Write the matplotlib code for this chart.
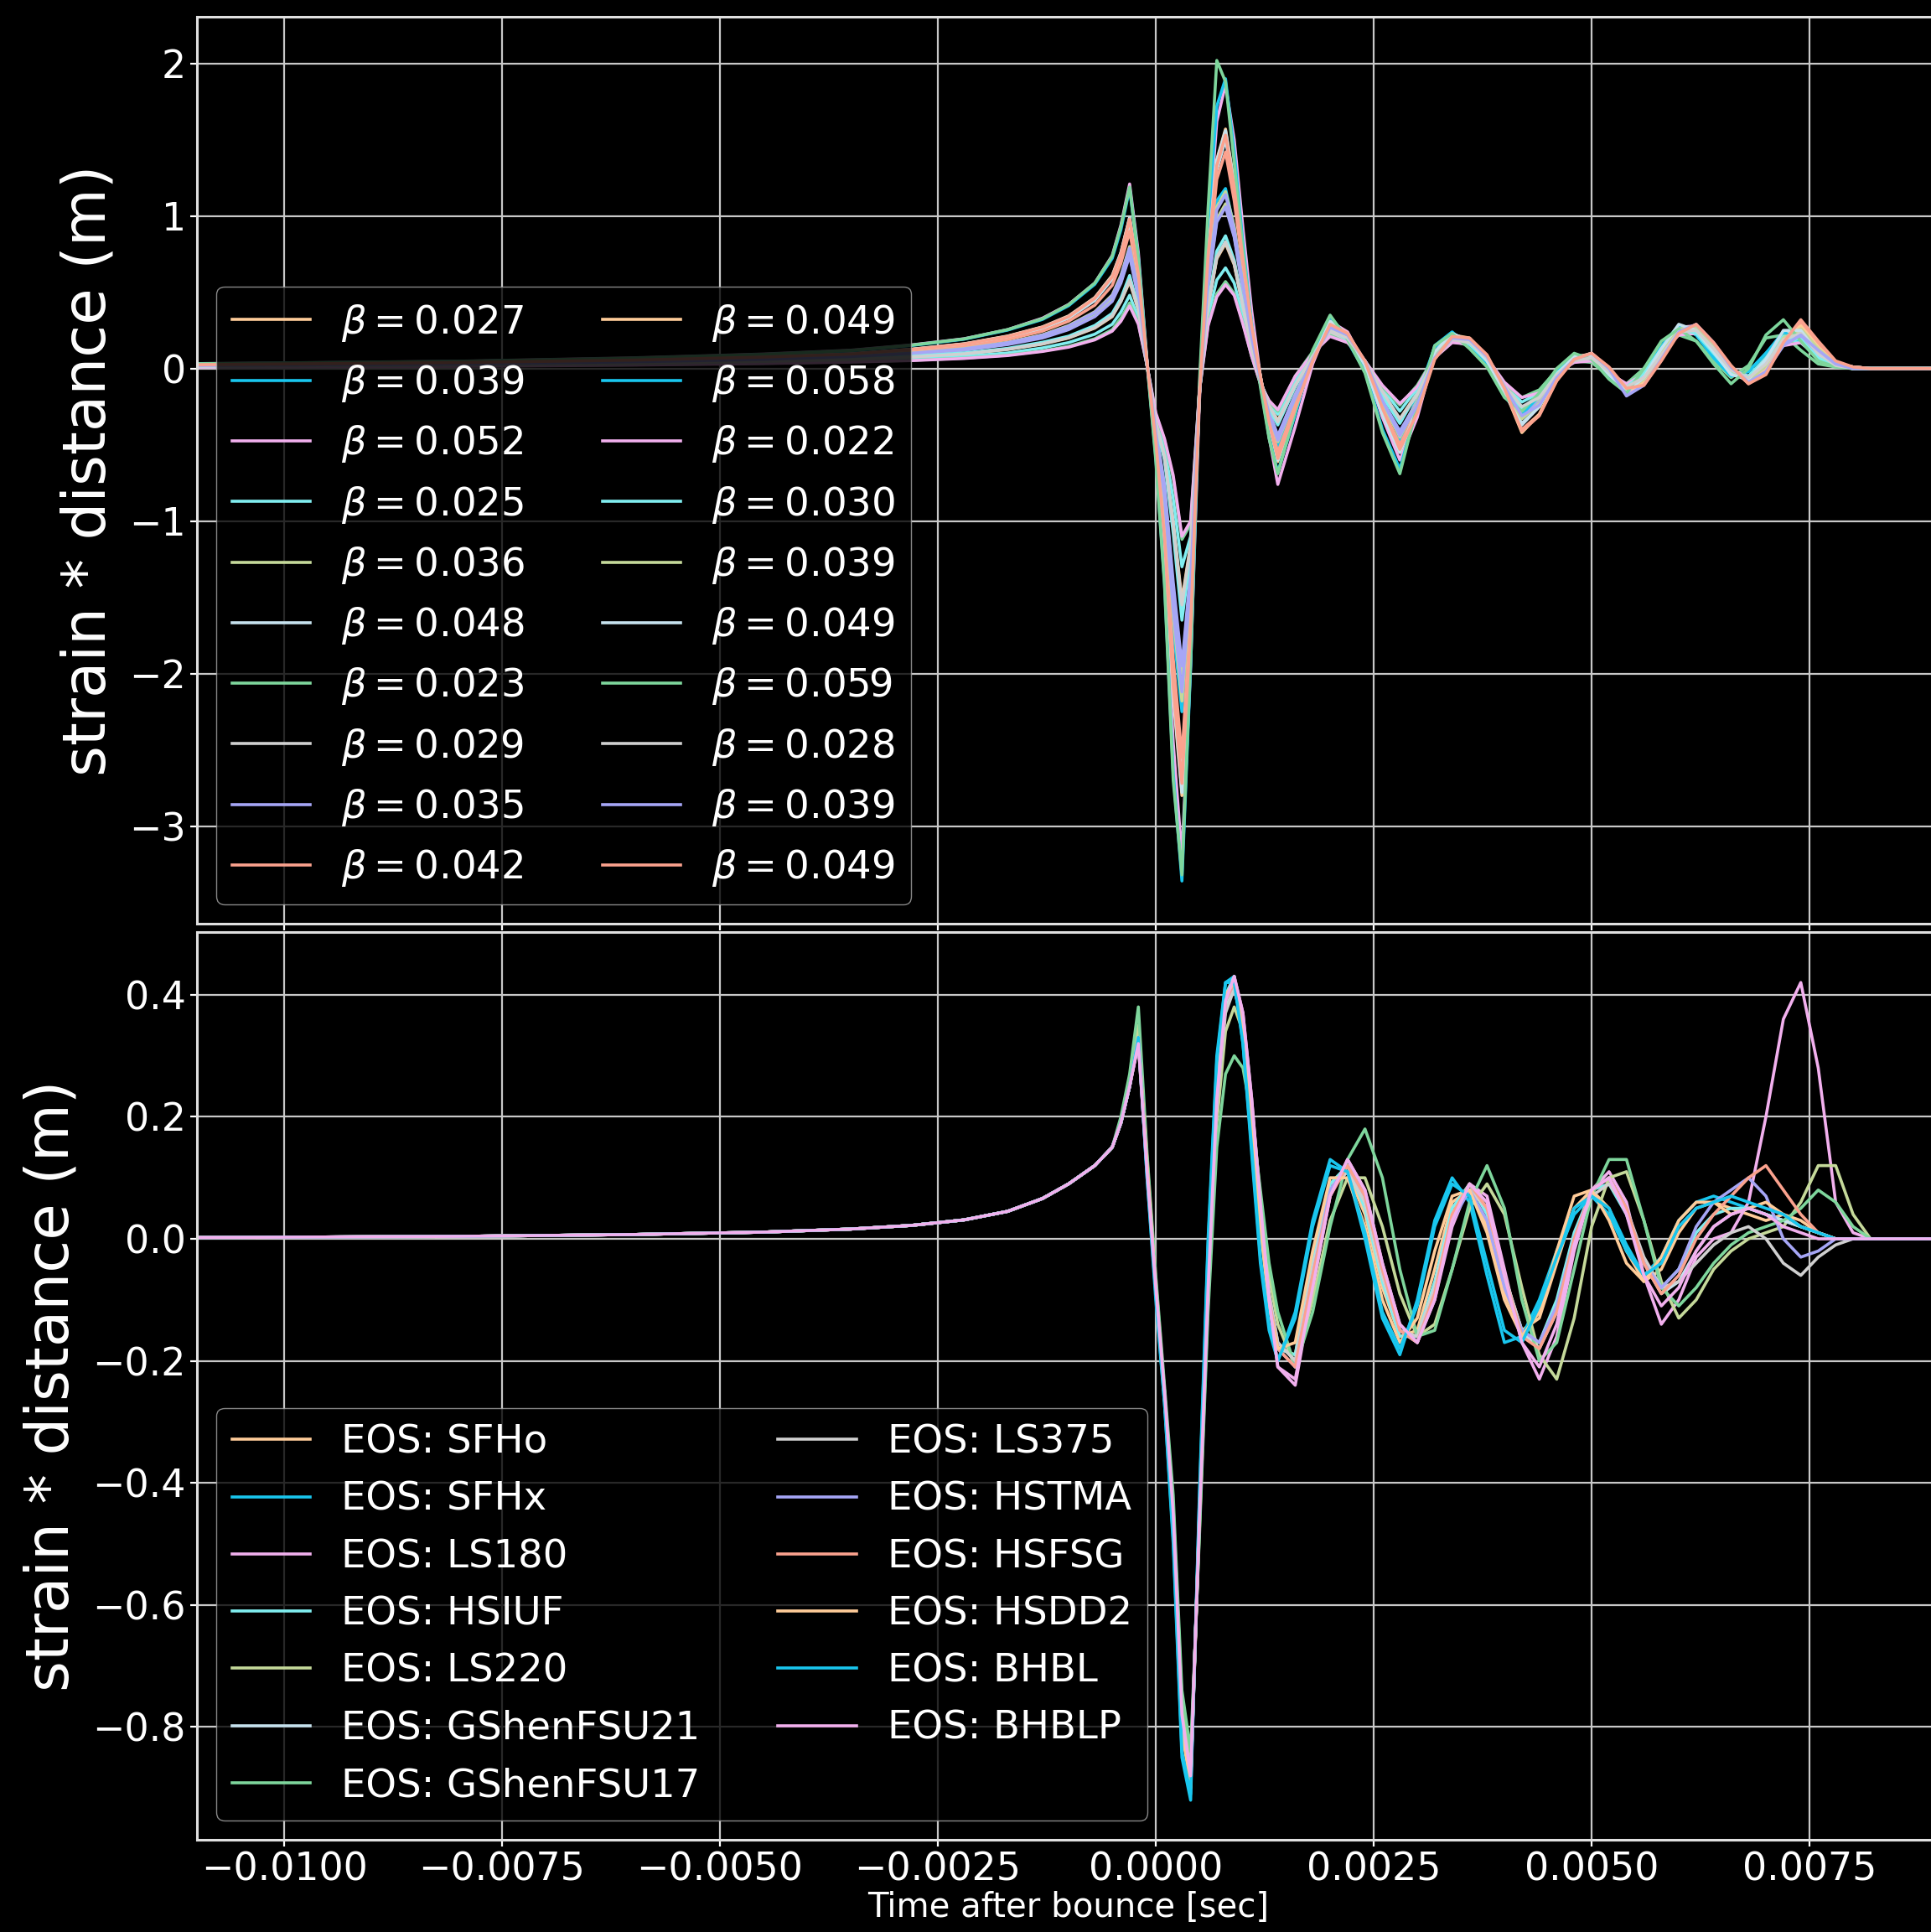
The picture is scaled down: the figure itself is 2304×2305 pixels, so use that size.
import matplotlib
matplotlib.use("Agg")
import matplotlib.pyplot as plt

# time grid shared by every waveform (s after bounce)
t = [-0.0110, -0.0080, -0.0060, -0.0045, -0.0035, -0.0028, -0.0022, -0.0017, -0.0013, -0.0010, -0.0007, -0.0005,
     -0.0004, -0.0003, -0.0002, -0.0001, 0.0000, 0.0001, 0.0002, 0.0003, 0.0004, 0.0005, 0.0006, 0.0007,
     0.0008, 0.0009, 0.0010, 0.0011, 0.0012, 0.0013, 0.0014,
     0.0016, 0.0018, 0.0020, 0.0022, 0.0024, 0.0026, 0.0028, 0.0030, 0.0032, 0.0034, 0.0036, 0.0038,
     0.0040, 0.0042, 0.0044, 0.0046, 0.0048, 0.0050, 0.0052, 0.0054, 0.0056, 0.0058, 0.0060, 0.0062,
     0.0064, 0.0066, 0.0068, 0.0070, 0.0072, 0.0074, 0.0076, 0.0078, 0.0080, 0.0082, 0.0090]

# ---- top panel: rotation series ----
beta_labels = ['0.027', '0.039', '0.052', '0.025', '0.036', '0.048', '0.023', '0.029', '0.035', '0.042',
               '0.049', '0.058', '0.022', '0.030', '0.039', '0.049', '0.059', '0.028', '0.039', '0.049']

rot_00 = [0.015, 0.022, 0.033, 0.046, 0.058, 0.075, 0.095, 0.125, 0.160, 0.200, 0.265, 0.340,
          0.44, 0.57, 0.38, 0.02, -0.35, -0.57, -1.00, -1.52, -1.15, -0.15, 0.40, 0.72, 0.82, 0.68, 0.40, 0.13, -0.08, -0.24, -0.34,
          -0.11, 0.08, 0.25, 0.19, 0.04, -0.16, -0.33, -0.16, 0.08, 0.20, 0.17, 0.06, -0.12, -0.27, -0.19, -0.03, 0.06,
          0.07, -0.03, -0.12, -0.04, 0.12, 0.26, 0.24, 0.10, -0.03, -0.06, 0.06, 0.21, 0.20, 0.08, 0.02, 0.00, 0.00, 0.00]
rot_01 = [0.020, 0.030, 0.045, 0.060, 0.078, 0.100, 0.128, 0.168, 0.215, 0.275, 0.365, 0.470,
          0.60, 0.78, 0.49, 0.03, -0.42, -0.88, -1.70, -2.25, -1.45, -0.15, 0.62, 1.10, 1.18, 0.92, 0.52, 0.17, -0.10, -0.35, -0.52,
          -0.22, 0.10, 0.30, 0.18, -0.02, -0.30, -0.48, -0.18, 0.14, 0.22, 0.14, 0.02, -0.18, -0.32, -0.18, -0.02, 0.08,
          0.06, -0.06, -0.15, -0.02, 0.15, 0.28, 0.22, 0.08, -0.04, -0.02, 0.10, 0.22, 0.18, 0.06, 0.02, 0.00, 0.00, 0.00]
rot_02 = [0.032, 0.048, 0.070, 0.095, 0.120, 0.155, 0.195, 0.255, 0.330, 0.420, 0.560, 0.740,
          0.94, 1.21, 0.76, 0.05, -0.56, -1.28, -2.45, -3.20, -1.95, -0.22, 0.85, 1.62, 1.86, 1.50, 0.92, 0.38, -0.05, -0.45, -0.76,
          -0.38, 0.03, 0.31, 0.24, 0.03, -0.32, -0.60, -0.32, 0.10, 0.23, 0.18, 0.07, -0.14, -0.30, -0.23, -0.06, 0.07,
          0.09, -0.02, -0.17, -0.10, 0.10, 0.27, 0.28, 0.14, -0.01, -0.09, 0.03, 0.22, 0.26, 0.12, 0.03, 0.01, 0.00, 0.00]
rot_03 = [0.012, 0.018, 0.028, 0.040, 0.050, 0.062, 0.080, 0.102, 0.135, 0.170, 0.225, 0.290,
          0.37, 0.48, 0.33, 0.02, -0.32, -0.52, -0.85, -1.30, -1.10, -0.15, 0.34, 0.58, 0.66, 0.56, 0.34, 0.10, -0.09, -0.22, -0.30,
          -0.08, 0.10, 0.23, 0.18, 0.05, -0.13, -0.28, -0.13, 0.08, 0.19, 0.16, 0.06, -0.11, -0.22, -0.16, -0.02, 0.05,
          0.06, -0.03, -0.11, -0.03, 0.12, 0.25, 0.23, 0.10, -0.02, -0.05, 0.06, 0.19, 0.17, 0.07, 0.02, 0.00, 0.00, 0.00]
rot_04 = [0.019, 0.028, 0.042, 0.057, 0.074, 0.095, 0.122, 0.160, 0.205, 0.260, 0.345, 0.450,
          0.57, 0.75, 0.47, 0.03, -0.40, -0.78, -1.45, -2.00, -1.35, -0.17, 0.55, 0.98, 1.08, 0.87, 0.52, 0.19, -0.07, -0.28, -0.45,
          -0.17, 0.07, 0.28, 0.20, 0.03, -0.22, -0.42, -0.21, 0.09, 0.21, 0.17, 0.05, -0.14, -0.31, -0.21, -0.04, 0.07,
          0.08, -0.03, -0.13, -0.06, 0.11, 0.27, 0.25, 0.13, -0.02, -0.07, 0.04, 0.20, 0.24, 0.12, 0.03, 0.00, 0.00, 0.00]
rot_05 = [0.024, 0.038, 0.053, 0.072, 0.092, 0.120, 0.155, 0.205, 0.262, 0.330, 0.445, 0.585,
          0.73, 0.95, 0.60, 0.04, -0.47, -1.05, -2.00, -2.65, -1.65, -0.18, 0.72, 1.30, 1.50, 1.17, 0.70, 0.27, -0.05, -0.34, -0.58,
          -0.26, 0.06, 0.30, 0.22, 0.03, -0.28, -0.52, -0.25, 0.10, 0.22, 0.18, 0.06, -0.15, -0.36, -0.25, -0.04, 0.08,
          0.09, -0.03, -0.15, -0.07, 0.12, 0.28, 0.26, 0.12, -0.03, -0.08, 0.04, 0.23, 0.25, 0.11, 0.03, 0.01, 0.00, 0.00]
rot_06 = [0.010, 0.015, 0.024, 0.034, 0.044, 0.054, 0.068, 0.088, 0.115, 0.145, 0.195, 0.255,
          0.33, 0.43, 0.30, 0.02, -0.30, -0.47, -0.72, -1.12, -1.02, -0.15, 0.29, 0.49, 0.57, 0.49, 0.30, 0.08, -0.10, -0.22, -0.28,
          -0.05, 0.11, 0.22, 0.17, 0.05, -0.12, -0.24, -0.11, 0.08, 0.18, 0.15, 0.05, -0.10, -0.19, -0.14, -0.01, 0.05,
          0.04, -0.05, -0.10, 0.00, 0.15, 0.22, 0.18, 0.05, -0.06, 0.02, 0.20, 0.22, 0.12, 0.03, 0.01, 0.00, 0.00, 0.00]
rot_07 = [0.015, 0.024, 0.034, 0.048, 0.060, 0.078, 0.098, 0.128, 0.165, 0.205, 0.272, 0.350,
          0.45, 0.59, 0.39, 0.02, -0.36, -0.58, -1.02, -1.56, -1.18, -0.16, 0.41, 0.73, 0.83, 0.69, 0.41, 0.14, -0.08, -0.25, -0.35,
          -0.11, 0.08, 0.24, 0.19, 0.05, -0.16, -0.34, -0.17, 0.07, 0.19, 0.17, 0.07, -0.11, -0.26, -0.19, -0.04, 0.05,
          0.07, -0.02, -0.11, -0.05, 0.10, 0.25, 0.25, 0.13, -0.01, -0.07, 0.02, 0.18, 0.22, 0.10, 0.02, 0.00, 0.00, 0.00]
rot_08 = [0.018, 0.028, 0.041, 0.056, 0.072, 0.093, 0.120, 0.157, 0.200, 0.255, 0.340, 0.440,
          0.56, 0.74, 0.46, 0.03, -0.40, -0.76, -1.40, -1.95, -1.32, -0.17, 0.54, 0.96, 1.06, 0.86, 0.51, 0.19, -0.07, -0.28, -0.44,
          -0.17, 0.07, 0.27, 0.21, 0.04, -0.21, -0.41, -0.22, 0.08, 0.20, 0.18, 0.07, -0.12, -0.30, -0.22, -0.05, 0.06,
          0.09, -0.01, -0.14, -0.09, 0.08, 0.25, 0.27, 0.15, 0.00, -0.08, 0.01, 0.17, 0.21, 0.10, 0.02, 0.00, 0.00, 0.00]
rot_09 = [0.022, 0.035, 0.050, 0.067, 0.086, 0.112, 0.145, 0.190, 0.245, 0.310, 0.415, 0.545,
          0.69, 0.90, 0.57, 0.04, -0.46, -1.00, -1.90, -2.55, -1.60, -0.18, 0.68, 1.24, 1.42, 1.10, 0.66, 0.25, -0.06, -0.33, -0.55,
          -0.24, 0.05, 0.29, 0.22, 0.04, -0.26, -0.50, -0.27, 0.07, 0.21, 0.19, 0.08, -0.14, -0.40, -0.30, -0.08, 0.06,
          0.10, 0.00, -0.14, -0.10, 0.06, 0.24, 0.28, 0.16, 0.01, -0.10, -0.03, 0.18, 0.30, 0.16, 0.04, 0.01, 0.00, 0.00]
rot_10 = [0.025, 0.040, 0.056, 0.076, 0.097, 0.127, 0.162, 0.213, 0.273, 0.345, 0.465, 0.610,
          0.76, 0.99, 0.63, 0.04, -0.49, -1.12, -2.15, -2.80, -1.72, -0.18, 0.76, 1.37, 1.57, 1.22, 0.73, 0.28, -0.05, -0.36, -0.61,
          -0.27, 0.06, 0.30, 0.23, 0.04, -0.28, -0.55, -0.28, 0.08, 0.22, 0.20, 0.08, -0.14, -0.42, -0.30, -0.07, 0.07,
          0.10, 0.00, -0.15, -0.09, 0.08, 0.26, 0.28, 0.15, 0.00, -0.09, -0.01, 0.20, 0.28, 0.14, 0.03, 0.01, 0.00, 0.00]
rot_11 = [0.030, 0.046, 0.066, 0.091, 0.116, 0.151, 0.192, 0.252, 0.322, 0.412, 0.552, 0.722,
          0.91, 1.18, 0.73, 0.04, -0.58, -1.40, -2.65, -3.36, -1.95, -0.15, 0.95, 1.72, 1.90, 1.42, 0.82, 0.30, -0.10, -0.45, -0.68,
          -0.30, 0.10, 0.34, 0.20, -0.02, -0.40, -0.66, -0.25, 0.15, 0.24, 0.14, 0.02, -0.18, -0.30, -0.18, -0.02, 0.09,
          0.07, -0.06, -0.16, -0.03, 0.14, 0.28, 0.22, 0.07, -0.05, -0.02, 0.10, 0.24, 0.18, 0.06, 0.02, 0.00, 0.00, 0.00]
rot_12 = [0.009, 0.014, 0.022, 0.032, 0.042, 0.052, 0.066, 0.085, 0.112, 0.140, 0.188, 0.245,
          0.31, 0.41, 0.29, 0.02, -0.29, -0.46, -0.70, -1.10, -1.00, -0.15, 0.28, 0.47, 0.55, 0.48, 0.29, 0.08, -0.10, -0.21, -0.27,
          -0.05, 0.10, 0.21, 0.17, 0.05, -0.11, -0.23, -0.12, 0.07, 0.17, 0.16, 0.07, -0.09, -0.19, -0.16, -0.03, 0.04,
          0.05, -0.03, -0.10, -0.04, 0.10, 0.22, 0.23, 0.12, -0.01, -0.05, 0.03, 0.15, 0.17, 0.08, 0.02, 0.00, 0.00, 0.00]
rot_13 = [0.016, 0.025, 0.036, 0.050, 0.062, 0.081, 0.102, 0.132, 0.172, 0.212, 0.282, 0.362,
          0.46, 0.61, 0.40, 0.02, -0.37, -0.60, -1.08, -1.65, -1.22, -0.16, 0.43, 0.77, 0.87, 0.71, 0.42, 0.14, -0.08, -0.26, -0.37,
          -0.12, 0.09, 0.26, 0.19, 0.03, -0.18, -0.36, -0.16, 0.09, 0.20, 0.16, 0.05, -0.13, -0.26, -0.17, -0.03, 0.07,
          0.07, -0.04, -0.12, -0.03, 0.13, 0.26, 0.23, 0.10, -0.03, -0.05, 0.07, 0.21, 0.19, 0.07, 0.02, 0.00, 0.00, 0.00]
rot_14 = [0.020, 0.030, 0.045, 0.061, 0.080, 0.101, 0.131, 0.171, 0.221, 0.282, 0.372, 0.482,
          0.61, 0.80, 0.50, 0.03, -0.42, -0.86, -1.62, -2.18, -1.42, -0.17, 0.59, 1.06, 1.16, 0.93, 0.55, 0.20, -0.07, -0.30, -0.48,
          -0.19, 0.07, 0.28, 0.21, 0.04, -0.23, -0.45, -0.23, 0.08, 0.21, 0.18, 0.06, -0.14, -0.33, -0.23, -0.05, 0.07,
          0.09, -0.02, -0.14, -0.07, 0.10, 0.26, 0.27, 0.14, -0.01, -0.08, 0.02, 0.20, 0.26, 0.13, 0.03, 0.01, 0.00, 0.00]
rot_15 = [0.025, 0.040, 0.055, 0.075, 0.096, 0.126, 0.161, 0.211, 0.271, 0.342, 0.462, 0.605,
          0.76, 0.99, 0.62, 0.04, -0.48, -1.11, -2.12, -2.78, -1.72, -0.18, 0.75, 1.36, 1.56, 1.21, 0.72, 0.28, -0.05, -0.35, -0.60,
          -0.27, 0.06, 0.31, 0.22, 0.02, -0.30, -0.55, -0.26, 0.11, 0.23, 0.18, 0.05, -0.16, -0.37, -0.25, -0.04, 0.08,
          0.08, -0.04, -0.15, -0.06, 0.13, 0.29, 0.25, 0.11, -0.04, -0.07, 0.06, 0.25, 0.25, 0.10, 0.03, 0.01, 0.00, 0.00]
rot_16 = [0.031, 0.047, 0.068, 0.093, 0.118, 0.153, 0.194, 0.255, 0.326, 0.418, 0.560, 0.735,
          0.93, 1.19, 0.72, 0.03, -0.60, -1.42, -2.70, -3.32, -1.90, -0.10, 1.05, 2.02, 1.88, 1.35, 0.78, 0.28, -0.12, -0.46, -0.69,
          -0.28, 0.12, 0.35, 0.19, -0.03, -0.42, -0.69, -0.24, 0.15, 0.23, 0.13, 0.01, -0.19, -0.28, -0.16, 0.00, 0.10,
          0.06, -0.07, -0.16, 0.00, 0.18, 0.26, 0.18, 0.03, -0.10, 0.00, 0.22, 0.32, 0.18, 0.05, 0.01, 0.00, 0.00, 0.00]
rot_17 = [0.015, 0.023, 0.033, 0.047, 0.058, 0.076, 0.096, 0.126, 0.162, 0.202, 0.268, 0.345,
          0.44, 0.58, 0.39, 0.02, -0.35, -0.58, -1.02, -1.55, -1.16, -0.15, 0.41, 0.73, 0.83, 0.69, 0.41, 0.13, -0.08, -0.24, -0.35,
          -0.11, 0.08, 0.25, 0.20, 0.05, -0.15, -0.33, -0.17, 0.07, 0.19, 0.17, 0.07, -0.11, -0.25, -0.19, -0.04, 0.05,
          0.07, -0.02, -0.12, -0.06, 0.09, 0.24, 0.25, 0.13, -0.01, -0.06, 0.03, 0.19, 0.23, 0.10, 0.02, 0.00, 0.00, 0.00]
rot_18 = [0.020, 0.030, 0.044, 0.060, 0.079, 0.100, 0.129, 0.169, 0.218, 0.278, 0.368, 0.476,
          0.60, 0.79, 0.50, 0.03, -0.42, -0.84, -1.58, -2.12, -1.40, -0.17, 0.58, 1.04, 1.14, 0.91, 0.55, 0.20, -0.07, -0.30, -0.47,
          -0.19, 0.06, 0.27, 0.22, 0.05, -0.21, -0.44, -0.24, 0.07, 0.20, 0.19, 0.08, -0.12, -0.31, -0.24, -0.06, 0.06,
          0.10, 0.00, -0.18, -0.11, 0.06, 0.24, 0.29, 0.17, 0.01, -0.09, -0.02, 0.15, 0.22, 0.12, 0.03, 0.00, 0.00, 0.00]
rot_19 = [0.025, 0.039, 0.055, 0.075, 0.095, 0.125, 0.160, 0.210, 0.270, 0.340, 0.460, 0.600,
          0.75, 0.98, 0.62, 0.04, -0.48, -1.10, -2.08, -2.72, -1.70, -0.18, 0.74, 1.33, 1.53, 1.19, 0.71, 0.28, -0.05, -0.35, -0.59,
          -0.26, 0.05, 0.29, 0.23, 0.05, -0.26, -0.53, -0.29, 0.06, 0.21, 0.20, 0.09, -0.13, -0.41, -0.31, -0.08, 0.06,
          0.10, 0.01, -0.13, -0.11, 0.05, 0.23, 0.29, 0.17, 0.02, -0.10, -0.04, 0.17, 0.32, 0.18, 0.05, 0.01, 0.00, 0.00]

rot_curves = [rot_00, rot_01, rot_02, rot_03, rot_04, rot_05, rot_06, rot_07, rot_08, rot_09,
              rot_10, rot_11, rot_12, rot_13, rot_14, rot_15, rot_16, rot_17, rot_18, rot_19]

# ---- bottom panel: equation of state series ----
eos_labels = ['SFHo', 'SFHx', 'LS180', 'HSIUF', 'LS220', 'GShenFSU21', 'GShenFSU17',
              'LS375', 'HSTMA', 'HSFSG', 'HSDD2', 'BHBL', 'BHBLP']

eos_00 = [0.002, 0.004, 0.007, 0.011, 0.016, 0.022, 0.031, 0.045, 0.066, 0.090, 0.120, 0.150,
          0.19, 0.25, 0.33, 0.12, -0.08, -0.26, -0.46, -0.79, -0.89, -0.47, -0.09, 0.22, 0.38, 0.42, 0.35, 0.20, 0.03, -0.10, -0.18,
          -0.19, -0.03, 0.09, 0.11, 0.04, -0.08, -0.16, -0.15, -0.05, 0.06, 0.08, 0.02, -0.09, -0.15, -0.13, -0.04, 0.05,
          0.08, 0.05, -0.02, -0.07, -0.05, 0.01, 0.05, 0.06, 0.05, 0.04, 0.03, 0.04, 0.03, 0.01, 0.00, 0.00, 0.00, 0.00]
eos_01 = [0.002, 0.004, 0.007, 0.011, 0.016, 0.022, 0.031, 0.045, 0.066, 0.090, 0.120, 0.150,
          0.19, 0.25, 0.33, 0.10, -0.10, -0.27, -0.50, -0.85, -0.92, -0.42, 0.00, 0.30, 0.42, 0.43, 0.32, 0.14, -0.04, -0.15, -0.20,
          -0.12, 0.03, 0.13, 0.11, 0.00, -0.13, -0.19, -0.10, 0.03, 0.10, 0.06, -0.06, -0.17, -0.16, -0.10, -0.02, 0.05,
          0.07, 0.04, -0.02, -0.06, -0.03, 0.03, 0.06, 0.07, 0.06, 0.05, 0.04, 0.03, 0.02, 0.01, 0.00, 0.00, 0.00, 0.00]
eos_02 = [0.002, 0.004, 0.007, 0.011, 0.016, 0.022, 0.031, 0.045, 0.066, 0.090, 0.120, 0.150,
          0.19, 0.25, 0.32, 0.11, -0.08, -0.25, -0.45, -0.78, -0.88, -0.46, -0.08, 0.23, 0.39, 0.43, 0.37, 0.23, 0.06, -0.10, -0.21,
          -0.24, -0.08, 0.07, 0.13, 0.08, -0.04, -0.14, -0.17, -0.10, 0.02, 0.09, 0.07, -0.05, -0.17, -0.23, -0.16, -0.02,
          0.08, 0.11, 0.06, -0.06, -0.14, -0.10, -0.03, 0.00, 0.01, 0.06, 0.20, 0.36, 0.42, 0.28, 0.06, 0.01, 0.00, 0.00]
eos_03 = [0.002, 0.004, 0.007, 0.011, 0.016, 0.022, 0.031, 0.045, 0.066, 0.090, 0.120, 0.150,
          0.19, 0.25, 0.33, 0.12, -0.08, -0.26, -0.47, -0.80, -0.89, -0.45, -0.06, 0.25, 0.40, 0.43, 0.35, 0.19, 0.02, -0.11, -0.18,
          -0.19, -0.04, 0.09, 0.12, 0.05, -0.07, -0.16, -0.16, -0.07, 0.05, 0.09, 0.04, -0.07, -0.16, -0.17, -0.10, 0.01,
          0.08, 0.09, 0.04, -0.04, -0.08, -0.05, 0.01, 0.04, 0.05, 0.05, 0.04, 0.03, 0.02, 0.01, 0.00, 0.00, 0.00, 0.00]
eos_04 = [0.002, 0.004, 0.007, 0.011, 0.016, 0.022, 0.031, 0.045, 0.066, 0.090, 0.120, 0.150,
          0.19, 0.26, 0.35, 0.13, -0.07, -0.25, -0.44, -0.76, -0.86, -0.48, -0.10, 0.19, 0.34, 0.38, 0.34, 0.22, 0.07, -0.06, -0.14,
          -0.21, -0.10, 0.03, 0.10, 0.10, 0.02, -0.09, -0.16, -0.14, -0.05, 0.05, 0.09, 0.04, -0.08, -0.19, -0.23, -0.13,
          0.02, 0.10, 0.11, 0.03, -0.07, -0.13, -0.10, -0.05, -0.02, 0.00, 0.01, 0.02, 0.06, 0.12, 0.12, 0.04, 0.00, 0.00]
eos_05 = [0.002, 0.004, 0.007, 0.011, 0.016, 0.022, 0.031, 0.045, 0.066, 0.090, 0.120, 0.150,
          0.19, 0.25, 0.33, 0.12, -0.08, -0.26, -0.46, -0.79, -0.88, -0.46, -0.08, 0.23, 0.38, 0.41, 0.35, 0.21, 0.04, -0.09, -0.17,
          -0.20, -0.05, 0.08, 0.12, 0.06, -0.06, -0.15, -0.17, -0.08, 0.04, 0.09, 0.05, -0.06, -0.15, -0.18, -0.12, 0.00,
          0.08, 0.10, 0.05, -0.04, -0.09, -0.07, -0.02, 0.02, 0.04, 0.05, 0.04, 0.03, 0.02, 0.01, 0.00, 0.00, 0.00, 0.00]
eos_06 = [0.002, 0.004, 0.007, 0.011, 0.016, 0.022, 0.031, 0.045, 0.066, 0.090, 0.120, 0.150,
          0.20, 0.27, 0.38, 0.14, -0.06, -0.24, -0.42, -0.74, -0.84, -0.49, -0.12, 0.15, 0.27, 0.30, 0.28, 0.20, 0.08, -0.04, -0.12,
          -0.21, -0.12, 0.02, 0.13, 0.18, 0.10, -0.05, -0.16, -0.15, -0.05, 0.06, 0.12, 0.05, -0.10, -0.20, -0.17, -0.05,
          0.07, 0.13, 0.13, 0.03, -0.08, -0.11, -0.08, -0.04, -0.01, 0.01, 0.02, 0.03, 0.05, 0.08, 0.06, 0.02, 0.00, 0.00]
eos_07 = [0.002, 0.004, 0.007, 0.011, 0.016, 0.022, 0.031, 0.045, 0.066, 0.090, 0.120, 0.150,
          0.19, 0.25, 0.32, 0.12, -0.08, -0.26, -0.46, -0.79, -0.89, -0.46, -0.08, 0.22, 0.37, 0.41, 0.35, 0.21, 0.04, -0.09, -0.17,
          -0.20, -0.05, 0.08, 0.11, 0.06, -0.06, -0.15, -0.16, -0.08, 0.04, 0.08, 0.05, -0.06, -0.15, -0.17, -0.11, 0.00,
          0.07, 0.09, 0.05, -0.03, -0.08, -0.07, -0.04, -0.01, 0.01, 0.02, 0.00, -0.04, -0.06, -0.03, -0.01, 0.00, 0.00, 0.00]
eos_08 = [0.002, 0.004, 0.007, 0.011, 0.016, 0.022, 0.031, 0.045, 0.066, 0.090, 0.120, 0.150,
          0.19, 0.25, 0.33, 0.12, -0.08, -0.26, -0.46, -0.80, -0.89, -0.46, -0.07, 0.23, 0.39, 0.42, 0.35, 0.20, 0.03, -0.10, -0.18,
          -0.21, -0.06, 0.08, 0.12, 0.07, -0.05, -0.15, -0.17, -0.09, 0.03, 0.08, 0.03, -0.08, -0.15, -0.17, -0.11, 0.00,
          0.08, 0.10, 0.05, -0.04, -0.08, -0.05, 0.02, 0.06, 0.08, 0.10, 0.07, 0.00, -0.03, -0.02, 0.00, 0.00, 0.00, 0.00]
eos_09 = [0.002, 0.004, 0.007, 0.011, 0.016, 0.022, 0.031, 0.045, 0.066, 0.090, 0.120, 0.150,
          0.19, 0.25, 0.33, 0.12, -0.08, -0.26, -0.47, -0.81, -0.89, -0.45, -0.06, 0.24, 0.39, 0.42, 0.35, 0.20, 0.03, -0.10, -0.18,
          -0.21, -0.06, 0.07, 0.12, 0.07, -0.05, -0.15, -0.17, -0.09, 0.04, 0.09, 0.05, -0.06, -0.16, -0.18, -0.12, 0.00,
          0.08, 0.10, 0.05, -0.04, -0.09, -0.06, 0.00, 0.04, 0.07, 0.10, 0.12, 0.08, 0.04, 0.01, 0.00, 0.00, 0.00, 0.00]
eos_10 = [0.002, 0.004, 0.007, 0.011, 0.016, 0.022, 0.031, 0.045, 0.066, 0.090, 0.120, 0.150,
          0.19, 0.25, 0.33, 0.12, -0.08, -0.26, -0.47, -0.80, -0.90, -0.45, -0.06, 0.25, 0.40, 0.42, 0.34, 0.19, 0.02, -0.11, -0.18,
          -0.17, -0.02, 0.10, 0.10, 0.02, -0.10, -0.17, -0.13, -0.02, 0.07, 0.08, 0.01, -0.10, -0.16, -0.12, -0.02, 0.07,
          0.08, 0.03, -0.04, -0.07, -0.03, 0.03, 0.06, 0.06, 0.04, 0.05, 0.06, 0.04, 0.02, 0.01, 0.00, 0.00, 0.00, 0.00]
eos_11 = [0.002, 0.004, 0.007, 0.011, 0.016, 0.022, 0.031, 0.045, 0.066, 0.090, 0.120, 0.150,
          0.19, 0.25, 0.33, 0.10, -0.09, -0.27, -0.49, -0.84, -0.91, -0.43, -0.01, 0.29, 0.42, 0.42, 0.32, 0.15, -0.03, -0.14, -0.20,
          -0.13, 0.02, 0.12, 0.11, 0.01, -0.12, -0.18, -0.11, 0.02, 0.09, 0.07, -0.04, -0.15, -0.17, -0.11, -0.03, 0.04,
          0.07, 0.05, -0.01, -0.06, -0.04, 0.02, 0.05, 0.06, 0.07, 0.06, 0.05, 0.04, 0.02, 0.01, 0.00, 0.00, 0.00, 0.00]
eos_12 = [0.002, 0.004, 0.007, 0.011, 0.016, 0.022, 0.031, 0.045, 0.066, 0.090, 0.120, 0.150,
          0.19, 0.25, 0.32, 0.11, -0.08, -0.25, -0.45, -0.78, -0.88, -0.46, -0.08, 0.23, 0.39, 0.43, 0.37, 0.23, 0.06, -0.10, -0.21,
          -0.23, -0.08, 0.07, 0.13, 0.08, -0.04, -0.14, -0.17, -0.10, 0.03, 0.09, 0.06, -0.06, -0.17, -0.21, -0.14, -0.01,
          0.08, 0.10, 0.04, -0.06, -0.11, -0.08, -0.02, 0.02, 0.04, 0.05, 0.04, 0.02, 0.01, 0.00, 0.00, 0.00, 0.00, 0.00]

eos_curves = [eos_00, eos_01, eos_02, eos_03, eos_04, eos_05, eos_06,
              eos_07, eos_08, eos_09, eos_10, eos_11, eos_12]

palette = ['#ffcc99', '#19c6ee', '#f2b0ee', '#80eef0', '#c5d99a',
           '#c6e2ee', '#7ed69c', '#d0d0d0', '#a6a6f6', '#fba28e']

for name, group in (('rot', rot_curves), ('eos', eos_curves)):
    for i, c in enumerate(group):
        if len(c) != len(t):
            raise ValueError(f'{name} {i}: {len(c)} points, expected {len(t)}')

plt.style.use('dark_background')
plt.rcParams['font.family'] = ['DejaVu Sans']

fig = plt.figure(figsize=(23.04, 23.05), dpi=100)
ax1 = fig.add_axes([0.1020, 0.5219, 0.9028, 0.4694])
ax2 = fig.add_axes([0.1020, 0.0477, 0.9028, 0.4698], sharex=ax1)

for i, h in enumerate(rot_curves):
    ax1.plot(t, h, color=palette[i % 10], lw=2.6, label=r'$\beta = %s$' % beta_labels[i])
for i, h in enumerate(eos_curves):
    ax2.plot(t, h, color=palette[i % 10], lw=2.6, label='EOS: ' + eos_labels[i])

ax1.set_xlim(-0.0110, 0.0090)
ax1.set_ylim(-3.64, 2.306)
ax2.set_ylim(-0.985, 0.5025)

for ax in (ax1, ax2):
    ax.grid(True, color='#c8c8c8', lw=1.6)
    ax.set_axisbelow(True)
    ax.tick_params(labelsize=33, length=6, width=1.6, colors='white')
    for sp in ax.spines.values():
        sp.set_color('#e0e0e0')
        sp.set_linewidth(2.2)
    ax.set_ylabel('strain * distance (m)', fontsize=51, labelpad=10)
    ax.legend(loc='lower left', ncol=2, fontsize=33.5, edgecolor='#aaaaaa')

ax1.set_xticks([-0.01, -0.0075, -0.005, -0.0025, 0.0, 0.0025, 0.005, 0.0075])
ax1.tick_params(labelbottom=False)
ax2.set_xticklabels(['\u22120.0100', '\u22120.0075', '\u22120.0050', '\u22120.0025',
                     '0.0000', '0.0025', '0.0050', '0.0075'])
ax2.set_xlabel('Time after bounce [sec]', fontsize=29, labelpad=2)

fig.savefig('out.png', dpi=100, facecolor='black')
